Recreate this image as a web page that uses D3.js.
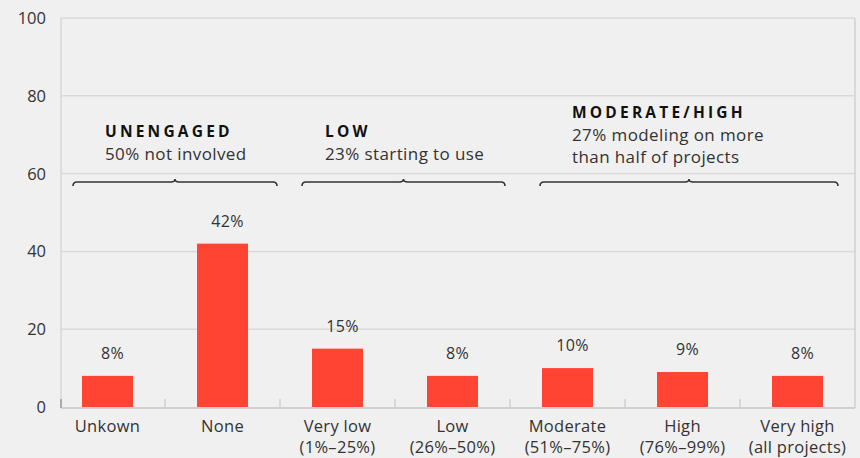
<!DOCTYPE html>
<meta charset="utf-8">
<style>
body { margin: 0; background: #f0f0f0; }
svg { display: block; font-family: "Open Sans", Roboto, sans-serif; }
.grid line { stroke: #d9d9d9; stroke-width: 1.5px; }
.tick-label { fill: #333; font-size: 16.5px; }
.cat-label { fill: #333; font-size: 16.5px; letter-spacing: 0.3px; }
.value { fill: #333; font-size: 16px; letter-spacing: 0.3px; }
.group-title { fill: #111; font-size: 15.5px; font-weight: bold; letter-spacing: 3.2px; }
.group-sub { fill: #333; font-size: 17px; letter-spacing: 0.4px; }
.brace { fill: none; stroke: #333; stroke-width: 1.6px; }
</style>
<svg width="860" height="458"></svg>
<script src="https://cdn.jsdelivr.net/npm/d3@7"></script>
<script>

const categories = ["Unkown", "None", "Very low", "Low", "Moderate", "High", "Very high"];
const subLabels = ["", "", "(1%–25%)", "(26%–50%)", "(51%–75%)", "(76%–99%)", "(all projects)"];
const values = [8, 42, 15, 8, 10, 9, 8];
const yTicks = [0, 20, 40, 60, 80, 100];

const groupTitles = ["UNENGAGED", "LOW", "MODERATE/HIGH"];
const groupLines = [["50% not involved"], ["23% starting to use"], ["27% modeling on more", "than half of projects"]];
const groupFirst = ["Unkown", "Very low", "Moderate"];
const groupLast = ["None", "Low", "Very high"];

const svg = d3.select("svg");
const axisLeft = 61, plotRight = 855, plotTop = 18, plotBottom = 407;

const x = d3.scaleBand().domain(categories).range([50, plotRight]).paddingInner(0).paddingOuter(0);
const y = d3.scaleLinear().domain([0, 100]).range([plotBottom, plotTop]);
const step = x.step();
const barWidth = 51;

// gridlines
svg.append("g").attr("class", "grid")
  .selectAll("line").data(yTicks.filter(d => d > 0))
  .enter().append("line")
  .attr("x1", axisLeft).attr("x2", plotRight)
  .attr("y1", d => y(d)).attr("y2", d => y(d));

// frame: left and right verticals, baseline
svg.append("line").attr("x1", axisLeft).attr("x2", axisLeft).attr("y1", plotTop).attr("y2", plotBottom)
  .attr("stroke", "#d9d9d9").attr("stroke-width", 1.5);
svg.append("line").attr("x1", plotRight).attr("x2", plotRight).attr("y1", plotTop).attr("y2", plotBottom + 1)
  .attr("stroke", "#d9d9d9").attr("stroke-width", 2);
svg.append("line").attr("x1", axisLeft).attr("x2", plotRight).attr("y1", plotBottom + 1).attr("y2", plotBottom + 1)
  .attr("stroke", "#d0d0d0").attr("stroke-width", 2);
svg.append("line").attr("x1", axisLeft).attr("x2", axisLeft).attr("y1", plotBottom - 8).attr("y2", plotBottom + 1)
  .attr("stroke", "#999").attr("stroke-width", 1.5);

// category separators
svg.append("g").selectAll("line").data(categories.slice(1))
  .enter().append("line")
  .attr("x1", d => x(d)).attr("x2", d => x(d))
  .attr("y1", plotBottom - 8).attr("y2", plotBottom)
  .attr("stroke", "#d0d0d0").attr("stroke-width", 1.5);

// y labels
svg.append("g").selectAll("text").data(yTicks)
  .enter().append("text")
  .attr("class", "tick-label")
  .attr("x", 46).attr("y", d => y(d) + 6)
  .attr("text-anchor", "end")
  .text(d => d);

// bars
svg.append("g").selectAll("rect").data(values)
  .enter().append("rect")
  .attr("x", (d, i) => x(categories[i]) + step / 2 - barWidth / 2)
  .attr("width", barWidth)
  .attr("y", d => y(d))
  .attr("height", d => plotBottom - y(d))
  .attr("fill", "#ff4433");

// value labels
svg.append("g").selectAll("text").data(values)
  .enter().append("text")
  .attr("class", "value")
  .attr("x", (d, i) => x(categories[i]) + step / 2 + 5)
  .attr("y", d => y(d) - 17)
  .attr("text-anchor", "middle")
  .text(d => d + "%");

// category labels
const cat = svg.append("g").selectAll("text").data(categories)
  .enter().append("text")
  .attr("class", "cat-label")
  .attr("text-anchor", "middle")
  .attr("x", d => x(d) + step / 2)
  .attr("y", 432);
cat.append("tspan").text(d => d);
cat.append("tspan")
  .attr("x", d => x(d) + step / 2)
  .attr("dy", 21)
  .text((d, i) => subLabels[i]);

// group braces and annotations
function bracePath(x0, x1, yb) {
  const m = (x0 + x1) / 2;
  return "M" + x0 + "," + (yb + 4) +
    " Q" + x0 + "," + yb + " " + (x0 + 4) + "," + yb +
    " L" + (m - 4) + "," + yb +
    " Q" + m + "," + yb + " " + m + "," + (yb - 3) +
    " Q" + m + "," + yb + " " + (m + 4) + "," + yb +
    " L" + (x1 - 4) + "," + yb +
    " Q" + x1 + "," + yb + " " + x1 + "," + (yb + 4);
}

const bracePad = [[23, 3], [22, 5], [30, 17]];
const titleY = [137, 137, 118];

groupTitles.forEach(function(title, i) {
  const x0 = x(groupFirst[i]) + bracePad[i][0];
  const x1 = x(groupLast[i]) + step - bracePad[i][1];
  svg.append("path").attr("class", "brace").attr("d", bracePath(x0, x1, 182));
  const tx = x0 + (i === 1 ? 23 : 32);
  svg.append("text").attr("class", "group-title")
    .attr("x", tx).attr("y", titleY[i]).text(title);
  groupLines[i].forEach(function(line, j) {
    svg.append("text").attr("class", "group-sub")
      .attr("x", tx).attr("y", titleY[i] + 23 + j * 22).text(line);
  });
});

</script>
